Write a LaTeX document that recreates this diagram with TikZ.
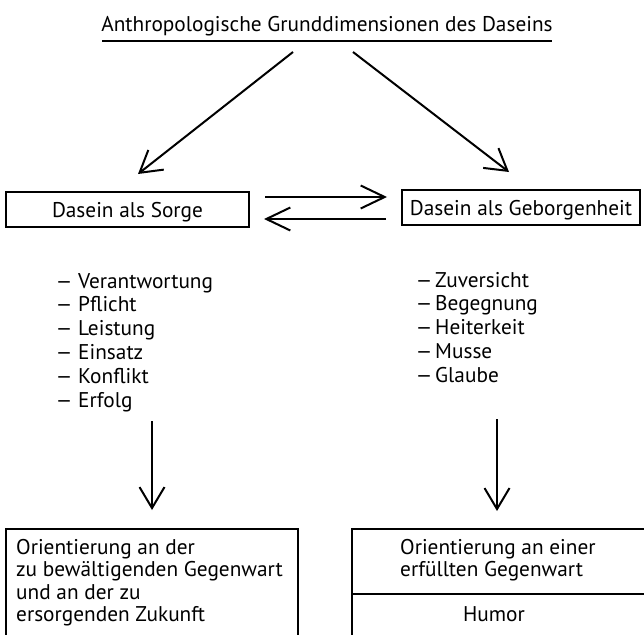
\documentclass[tikz,border=0pt]{standalone}
\usepackage{fontspec}
\setmainfont{PT Sans}
\usetikzlibrary{arrows.meta}
\newcommand{\itemdash}{\resizebox{18pt}{\height}{–}}
\begin{document}
\begin{tikzpicture}[x=1pt,y=-1pt,
  lbl/.style={inner sep=0pt, font=\fontsize{21.3}{25}\selectfont},
  boxnode/.style={draw, line width=2pt, inner sep=0pt, font=\fontsize{21.3}{25}\selectfont, text height=15pt, text depth=0pt},
  conn/.style={line width=2pt, -{Straight Barb[length=21pt,width=25pt,line width=2pt]}},
  hconn/.style={line width=2pt, -{Straight Barb[length=24pt,width=23pt,line width=2pt]}}]
\useasboundingbox (0,0) rectangle (644,634);
\clip (0,0) rectangle (644,634);
\fill[white] (0,0) rectangle (644,634);

% title
\node[lbl, anchor=base] (title) at (327,32) {Anthropologische Grunddimensionen des Daseins};
\coordinate (ulA) at (102,41);
\coordinate (ulB) at (552,41);
\draw[line width=2pt] (ulA) -- (ulB);

% upper boxes
\node[boxnode, minimum width=243pt, minimum height=35pt] (sorge) at (127.5,209.5) {Dasein als Sorge};
\node[boxnode, minimum width=238pt, minimum height=35pt] (geb) at (521,207.5) {Dasein als Geborgenheit};

% diagonal arrows
\coordinate (tL) at (293,52);
\coordinate (tR) at (353,52);
\coordinate (eL) at (138,174);
\coordinate (eR) at (509,172);
\draw[conn] (tL) -- (eL);
\draw[conn] (tR) -- (eR);

% horizontal arrows
\coordinate (h1a) at (265,197);
\coordinate (h1b) at (387,197);
\coordinate (h2a) at (386,219);
\coordinate (h2b) at (264,219);
\draw[hconn] (h1a) -- (h1b);
\draw[hconn] (h2a) -- (h2b);

% left list
\node[lbl, anchor=base west] (l1) at (55,288) {\makebox[23pt][l]{\itemdash}Verantwortung};
\node[lbl, anchor=base west] (l2) at (55,311.8) {\makebox[23pt][l]{\itemdash}Pflicht};
\node[lbl, anchor=base west] (l3) at (55,335.6) {\makebox[23pt][l]{\itemdash}Leistung};
\node[lbl, anchor=base west] (l4) at (55,359.4) {\makebox[23pt][l]{\itemdash}Einsatz};
\node[lbl, anchor=base west] (l5) at (55,383.2) {\makebox[23pt][l]{\itemdash}Konflikt};
\node[lbl, anchor=base west] (l6) at (55,407) {\makebox[23pt][l]{\itemdash}Erfolg};

% right list
\node[lbl, anchor=base west] (r1) at (415,287) {\makebox[20pt][l]{\itemdash}Zuversicht};
\node[lbl, anchor=base west] (r2) at (415,310.8) {\makebox[20pt][l]{\itemdash}Begegnung};
\node[lbl, anchor=base west] (r3) at (415,334.6) {\makebox[20pt][l]{\itemdash}Heiterkeit};
\node[lbl, anchor=base west] (r4) at (415,358.4) {\makebox[20pt][l]{\itemdash}Musse};
\node[lbl, anchor=base west] (r5) at (415,382.2) {\makebox[20pt][l]{\itemdash}Glaube};

% vertical arrows
\coordinate (vL1) at (152,421);
\coordinate (vL2) at (152,510);
\coordinate (vR1) at (497,419);
\coordinate (vR2) at (497,511);
\draw[conn] (vL1) -- (vL2);
\draw[conn] (vR1) -- (vR2);

% bottom boxes
\node[boxnode, anchor=north west, minimum width=292pt, minimum height=130pt, text height=0pt] (bl) at (5,528) {};
\node[boxnode, anchor=north west, minimum width=310pt, minimum height=130pt, text height=0pt] (br) at (351,528) {};
\coordinate (dA) at (351,594);
\coordinate (dB) at (660,594);
\draw[line width=2pt] (dA) -- (dB);

\node[lbl, anchor=base west] (b1) at (16,554) {Orientierung an der};
\node[lbl, anchor=base west] (b2) at (16,576.5) {zu bewältigenden Gegenwart};
\node[lbl, anchor=base west] (b3) at (16,599) {und an der zu};
\node[lbl, anchor=base west] (b4) at (16,621.5) {ersorgenden Zukunft};

\node[lbl, anchor=base west] (c1) at (400,554) {Orientierung an einer};
\node[lbl, anchor=base west] (c2) at (400,576.5) {erfüllten Gegenwart};
\node[lbl, anchor=base] (c3) at (494,621) {Humor};
\end{tikzpicture}
\end{document}
